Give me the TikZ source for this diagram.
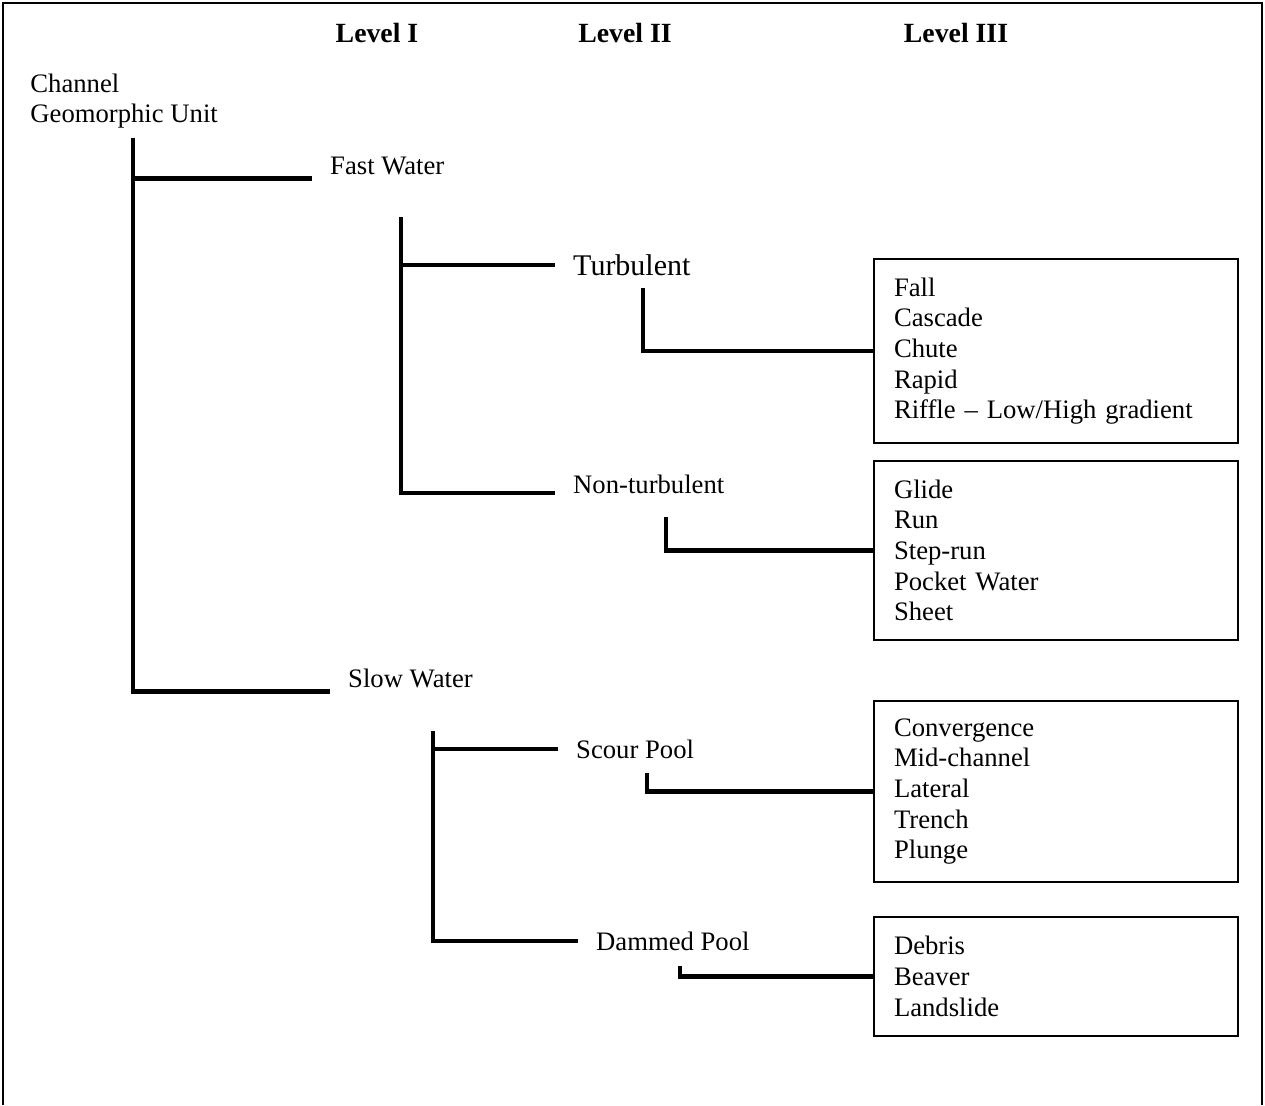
\documentclass[tikz,border=0pt]{standalone}
\usepackage{fontspec}
\setmainfont{Liberation Serif}
\usepackage{tikz}

\begin{document}
\begin{tikzpicture}[x=0.45pt, y=-0.45pt,
    lbl/.style={inner xsep=8pt, inner ysep=0pt, font=\fontsize{12}{13.8}\selectfont},
    lvl/.style={font=\fontsize{12.5}{14}\selectfont\bfseries},
    branch/.style={line width=2pt},
    listbox/.style={draw, line width=0.9pt, text width=146pt, inner xsep=9pt,
        align=left, anchor=west, font=\fontsize{12}{13.8}\selectfont}]
    \useasboundingbox (0,0) rectangle (1265,1105);
    \draw[line width=0.5pt] (3,1105) -- (3,3) -- (1262,3) -- (1262,1105);
    \node[lvl, anchor=base] (lvlI) at (377,42) {Level I};
    \node[lvl, anchor=base] (lvlII) at (625,42) {Level II};
    \node[lvl, anchor=base] (lvlIII) at (956,42) {Level III};
    \node[lbl, inner sep=0pt, anchor=west, align=left] (cgu) at (30,101) {Channel\\Geomorphic Unit};
    \node[lbl, anchor=base west] (fw) at (312,174) {Fast Water};
    \node[lbl, anchor=base west] (sw) at (330,687) {Slow Water};
    \node[lbl, font=\fontsize{13.5}{15}\selectfont, anchor=base west] (tu) at (555,275) {Turbulent};
    \node[lbl, anchor=base west] (nt) at (555,493) {Non-turbulent};
    \node[lbl, anchor=base west] (sp) at (558,758) {Scour Pool};
    \node[lbl, anchor=base west] (dp) at (578,950) {Dammed Pool};
    \node[listbox, minimum height=82.8pt] (tubox) at (873,351) {Fall\\Cascade\\Chute\\Rapid\\Riffle -- Low/High gradient};
    \node[listbox, minimum height=80.5pt] (ntbox) at (873,550.5) {Glide\\Run\\Step-run\\Pocket Water\\Sheet};
    \node[listbox, minimum height=81.4pt] (spbox) at (873,791.5) {Convergence\\Mid-channel\\Lateral\\Trench\\Plunge};
    \node[listbox, minimum height=53.5pt] (dpbox) at (873,976.5) {Debris\\Beaver\\Landslide};
    \coordinate (cgu-top) at (133,138);
    \coordinate (fw-top) at (401,217);
    \coordinate (sw-top) at (433,731);
    \coordinate (tu-top) at (643,288);
    \coordinate (nt-top) at (666,517);
    \coordinate (sp-top) at (647,773);
    \coordinate (dp-top) at (680,966);
    \draw[branch] (cgu-top) |- ([yshift=-2pt]fw.base west);
    \draw[branch] (cgu-top) |- ([yshift=-2pt]sw.base west);
    \draw[branch] (fw-top) |- (tu.west);
    \draw[branch] (fw-top) |- (nt.base west);
    \draw[branch] (sw-top) |- (sp.west);
    \draw[branch] (sw-top) |- (dp.west);
    \draw[branch] (tu-top) |- (tubox.west);
    \draw[branch] (nt-top) |- (ntbox.west);
    \draw[branch] (sp-top) |- (spbox.west);
    \draw[branch] (dp-top) |- (dpbox.west);
\end{tikzpicture}
\end{document}
